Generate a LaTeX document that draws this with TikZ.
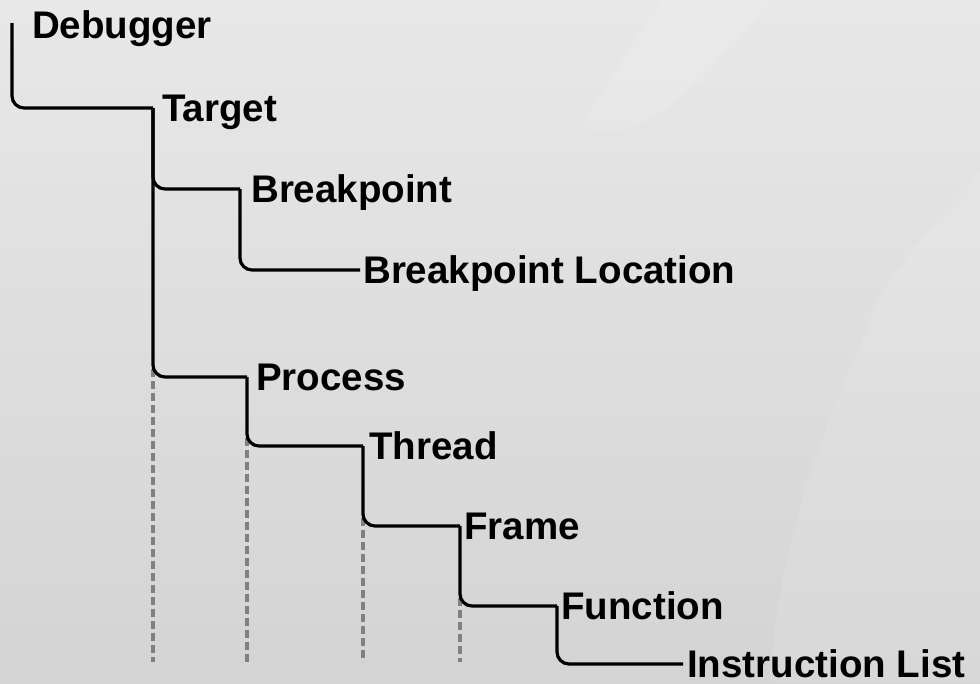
\documentclass[tikz,border=0pt]{standalone}
\usepackage{fontspec}
\setmainfont{Liberation Sans}
\begin{document}
\begin{tikzpicture}[x=1pt,y=-1pt,
  lbl/.style={anchor=base west, inner xsep=9pt, inner ysep=0pt,
    text height=26pt, text depth=0pt, font=\fontsize{38.5}{40}\selectfont\bfseries},
  link/.style={draw=black, line width=3.2pt, rounded corners=12pt},
  guide/.style={draw=black!50, line width=3.2pt, dash pattern=on 8pt off 4pt}]
\useasboundingbox (0,0) rectangle (980,683);
% background
\begin{scope}
\clip (0,0) rectangle (980,683);
\shade[top color=black!9, bottom color=black!17] (0,0) rectangle (980,683);
\fill[white, opacity=0.12] (582,125) .. controls (610,80) and (640,30) .. (667,-5)
  -- (775,-5) .. controls (730,50) and (680,110) .. (630,128)
  .. controls (610,134) and (585,132) .. (582,125) -- cycle;
\fill[white, opacity=0.10] (1000,150) .. controls (900,260) and (880,290) .. (870,320)
  .. controls (830,420) and (780,520) .. (770,683) -- (1000,683) -- cycle;
\end{scope}
% labels
\node[lbl, inner xsep=20pt] (dbg)  at (12,38)  {Debugger};
\node[lbl] (tgt)  at (153,121) {Target};
\node[lbl, inner xsep=11pt] (bp)   at (240,202) {Breakpoint};
\node[lbl, inner xsep=3pt] (bpl)  at (360,283) {Breakpoint Location};
\node[lbl] (proc) at (247,390) {Process};
\node[lbl, inner xsep=6pt] (thr)  at (363,459) {Thread};
\node[lbl, inner xsep=4pt] (frm)  at (460,539) {Frame};
\node[lbl, inner xsep=4pt] (fun)  at (557,619) {Function};
\node[lbl, inner xsep=4pt] (inst) at (683,677) {Instruction List};
\coordinate (bot) at (0,662);
% guides
\draw[guide] ([yshift=8pt]tgt.west |- proc.west) -- (tgt.west |- bot);
\draw[guide] ([yshift=8pt]proc.west |- thr.west) -- (proc.west |- bot);
\draw[guide] ([yshift=8pt]thr.west |- frm.west) -- (thr.west |- bot);
\draw[guide] ([yshift=8pt]frm.west |- fun.west) -- (frm.west |- bot);
% connectors
\draw[link] ([yshift=2pt]dbg.west) |- (tgt.west);
\draw[link] (tgt.west) |- (bp.west);
\draw[link] (tgt.west) |- (proc.west);
\draw[link] (bp.west) |- (bpl.west);
\draw[link] (proc.west) |- (thr.west);
\draw[link] (thr.west) |- (frm.west);
\draw[link] (frm.west) |- (fun.west);
\draw[link] (fun.west) |- (inst.west);
\end{tikzpicture}
\end{document}
